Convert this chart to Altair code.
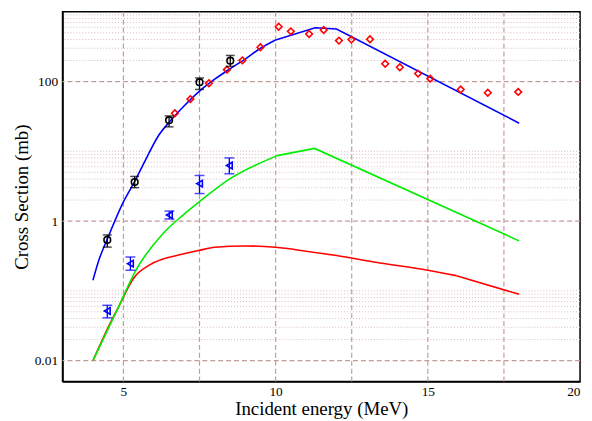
import altair as alt
import pandas as pd

# ---- theory curves (smooth rising part + straight-segment tail) ----
blue_x = [4.0, 4.2, 4.47, 5.0, 5.37, 5.72, 6.15, 6.5, 7.0, 7.5, 8.0, 8.5, 9.0, 9.5, 10.0]
blue_y = [0.142, 0.28, 0.55, 1.88, 3.7, 7.4, 16.7, 26, 45, 73, 108, 152, 210, 300, 395]
blue_tail_x = [10.0, 11.3, 12.0, 18.0]
blue_tail_y = [395, 590, 566, 25.3]

green_x = [4.0, 4.85, 5.39, 6.31, 6.96, 7.5, 8.42, 10.05]
green_y = [0.01, 0.06, 0.19, 0.67, 1.22, 1.9, 3.83, 8.67]
green_tail_x = [10.05, 11.28, 18.0]
green_tail_y = [8.67, 11.0, 0.52]

red_x = [4.0, 4.5, 4.85, 5.34, 5.88, 6.96, 7.5, 8.0, 9.0, 10.0, 11.0, 12.0, 13.29, 15.0, 15.94]
red_y = [0.01, 0.03, 0.06, 0.153, 0.237, 0.336, 0.38, 0.42, 0.44, 0.42, 0.37, 0.32, 0.256, 0.197, 0.165]
red_tail_x = [15.94, 18.0]
red_tail_y = [0.165, 0.089]

# ---- measured data ----
diam_x = [6.69, 7.2, 7.81, 8.4, 8.91, 9.5, 10.1, 10.5, 11.1, 11.58, 12.08, 12.49, 13.1, 13.6, 14.08, 14.68, 15.08, 16.08, 16.97, 17.97]
diam_y = [35.1, 56, 94.6, 148, 201, 310, 611, 524, 481, 548, 386, 399, 403, 180, 160, 130, 110, 77, 69, 71]

circ_x = [4.47, 5.37, 6.5, 7.5, 8.51]
circ_y = [0.537, 3.62, 27.9, 97.7, 199]
circ_lo = [0.423, 3.01, 22.4, 77, 165]
circ_hi = [0.632, 4.36, 32.1, 112.5, 236.6]

tri_x = [4.47, 5.23, 6.51, 7.5, 8.48]
tri_y = [0.0514, 0.245, 1.22, 3.44, 6.25]
tri_lo = [0.041, 0.197, 1.07, 2.48, 4.76]
tri_hi = [0.062, 0.305, 1.39, 4.5, 8.04]

# ---- grid values ----
x_grid = [5, 7.5, 10, 12.5, 15, 17.5]
y_major = [0.01, 1, 100]
y_minor = [0.02, 0.03, 0.04, 0.05, 0.06, 0.07, 0.08, 0.09, 0.1,
           2, 3, 4, 5, 6, 7, 8, 9, 10,
           200, 300, 400, 500, 600, 700, 800, 900]

x_ticks = [5, 10, 15, 20]
y_ticks = [0.01, 1, 100]

FONT = "Liberation Serif"

xscale = alt.Scale(domain=[3, 20], nice=False, zero=False)
yscale = alt.Scale(type="log", domain=[0.005, 1000], nice=False)

xax = alt.Axis(values=x_ticks, title="Incident energy (MeV)", grid=False, ticks=False,
               labelPadding=3, titlePadding=2, format="~g")
yax = alt.Axis(values=y_ticks, title="Cross Section (mb)", grid=False, ticks=False,
               labelPadding=5, titlePadding=3, format="~g")

minor_df = pd.DataFrame({"y": y_minor})
major_df = pd.DataFrame({"y": y_major})
vgrid_df = pd.DataFrame({"x": x_grid})

minor = alt.Chart(minor_df).mark_rule(color="#d9bcbc", strokeDash=[1, 2], strokeWidth=1).encode(
    y=alt.Y("y:Q", scale=yscale, axis=yax))
major = alt.Chart(major_df).mark_rule(color="#c49c9c", strokeDash=[5, 3], strokeWidth=1.2).encode(
    y=alt.Y("y:Q", scale=yscale))
vgrid = alt.Chart(vgrid_df).mark_rule(color="#c49c9c", strokeDash=[5, 3], strokeWidth=1.2).encode(
    x=alt.X("x:Q", scale=xscale, axis=xax))

def line(xs, ys, color, interp):
    df = pd.DataFrame({"x": xs, "y": ys})
    return alt.Chart(df).mark_line(color=color, strokeWidth=1.6, clip=True, interpolate=interp).encode(
        x=alt.X("x:Q", scale=xscale), y=alt.Y("y:Q", scale=yscale))

curves = [
    line(red_x, red_y, "#ff0000", "monotone"),
    line(red_tail_x, red_tail_y, "#ff0000", "linear"),
    line(green_x, green_y, "#00ee00", "monotone"),
    line(green_tail_x, green_tail_y, "#00ee00", "linear"),
    line(blue_x, blue_y, "#0000ff", "monotone"),
    line(blue_tail_x, blue_tail_y, "#0000ff", "linear"),
]

diam_df = pd.DataFrame({"x": diam_x, "y": diam_y})
diamonds = alt.Chart(diam_df).mark_point(shape="diamond", color="#ff0000", filled=False,
                                         size=45, strokeWidth=1.6, opacity=1).encode(
    x=alt.X("x:Q", scale=xscale), y=alt.Y("y:Q", scale=yscale))

def errbars(df, color, cap):
    bar = alt.Chart(df).mark_rule(color=color, strokeWidth=1.3).encode(
        x=alt.X("x:Q", scale=xscale), y=alt.Y("lo:Q", scale=yscale), y2="hi:Q")
    lo = alt.Chart(df).mark_tick(color=color, orient="horizontal", size=cap, thickness=1.5).encode(
        x=alt.X("x:Q", scale=xscale), y=alt.Y("lo:Q", scale=yscale))
    hi = alt.Chart(df).mark_tick(color=color, orient="horizontal", size=cap, thickness=1.5).encode(
        x=alt.X("x:Q", scale=xscale), y=alt.Y("hi:Q", scale=yscale))
    return [bar, lo, hi]

circ_df = pd.DataFrame({"x": circ_x, "y": circ_y, "lo": circ_lo, "hi": circ_hi})
circles = alt.Chart(circ_df).mark_point(shape="circle", color="black", filled=False,
                                        size=45, strokeWidth=1.6, opacity=1).encode(
    x=alt.X("x:Q", scale=xscale), y=alt.Y("y:Q", scale=yscale))

tri_df = pd.DataFrame({"x": tri_x, "y": tri_y, "lo": tri_lo, "hi": tri_hi})
tris = alt.Chart(tri_df).mark_point(shape="triangle-left", color="#0000ff", filled=False,
                                    size=45, strokeWidth=1.6, opacity=1).encode(
    x=alt.X("x:Q", scale=xscale), y=alt.Y("y:Q", scale=yscale))

chart = alt.layer(
    minor, major, vgrid,
    *curves,
    diamonds,
    *errbars(circ_df, "black", 9), circles,
    *errbars(tri_df, "#0000ff", 10), tris,
).properties(
    width=522, height=373,
    autosize=alt.AutoSizeParams(type="none"),
    padding={"left": 55, "top": 2, "right": 4, "bottom": 42},
    background="white",
).configure_view(
    stroke="black", strokeWidth=1.5
).configure_axis(
    labelFont=FONT, labelFontSize=13.5, labelColor="black",
    titleFont=FONT, titleFontSize=19, titleFontWeight="normal", titleColor="black",
    domainColor="black", domainWidth=1.5,
)

chart.save("out.html", embed_options={"renderer": "svg", "actions": False})
